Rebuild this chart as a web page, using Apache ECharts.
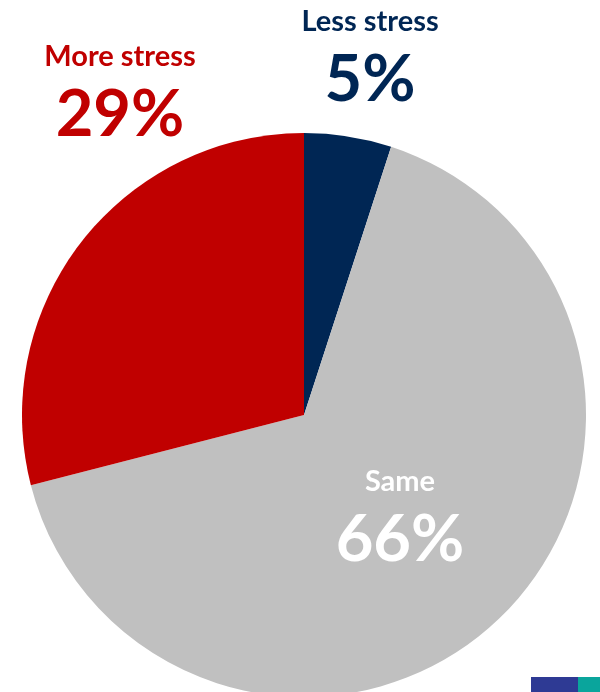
<!DOCTYPE html>
<html><head><meta charset="utf-8">
<script src="https://cdn.jsdelivr.net/npm/echarts@6/dist/echarts.min.js"></script>
<style>html,body{margin:0;padding:0;background:#fff}#c{width:600px;height:692px}</style>
</head><body><div id="c"></div>
<script>
var categories = ['Less stress', 'Same', 'More stress'];
var values = [5, 66, 29];
var colors = ['#002654', '#C0C0C0', '#C00000'];
var labelColors = ['#002654', '#FFFFFF', '#C00000'];
var labelSpots = [[370, 0], [400, 460], [120, 35]];

var chart = echarts.init(document.getElementById('c'), null, {renderer: 'canvas'});
var data = categories.map(function (c, i) {
  return {
    name: c, value: values[i],
    itemStyle: {color: colors[i]},
    label: {
      rich: {
        n: {color: labelColors[i], fontSize: 29, fontWeight: 'bold', fontFamily: 'Lato', lineHeight: 44, align: 'center'},
        v: {color: labelColors[i], fontSize: 65, fontWeight: 'bold', fontFamily: 'Lato', lineHeight: 72, align: 'center'}
      }
    }
  };
});
chart.setOption({
  animation: false,
  series: [{
    type: 'pie',
    center: [304, 415],
    radius: 282,
    startAngle: 90,
    clockwise: true,
    data: data,
    emphasis: {disabled: true},
    labelLine: {show: false},
    label: {
      show: true,
      position: 'inside',
      formatter: '{n|{b}}\n{v|{c}%}'
    },
    labelLayout: function (p) {
      var s = labelSpots[p.dataIndex];
      return {x: s[0], y: s[1], align: 'center', verticalAlign: 'top'};
    }
  }],
  graphic: [
    {type: 'rect', shape: {x: 531, y: 677, width: 47, height: 15}, style: {fill: '#2E3A94'}, silent: true},
    {type: 'rect', shape: {x: 578, y: 677, width: 22, height: 15}, style: {fill: '#0AA59C'}, silent: true}
  ]
});
</script></body></html>
